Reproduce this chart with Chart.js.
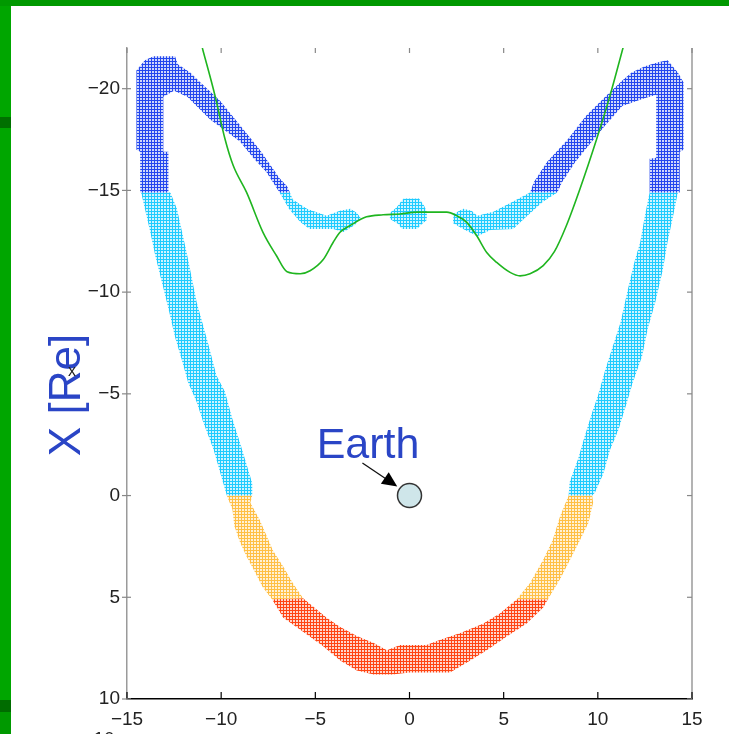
<!DOCTYPE html>
<html>
<head>
<meta charset="utf-8">
<script src="https://cdn.jsdelivr.net/npm/chart.js@4.4.0/dist/chart.umd.min.js"></script>
<style>
html, body { margin: 0; padding: 0; }
body { width: 729px; height: 734px; background: #009900; position: relative; overflow: hidden; }
#bar { position: absolute; left: 0; top: 6px; width: 11px; height: 694px; background: #00a600; }
#p1 { position: absolute; left: 0; top: 117px; width: 11px; height: 11px; background: #007000; }
#p2 { position: absolute; left: 0; top: 700px; width: 11px; height: 12px; background: #006c00; }
#paper { position: absolute; left: 11px; top: 6px; right: 0; bottom: 0; background: #fff; }
#c { position: absolute; left: 0; top: 0; }
</style>
</head>
<body>
<div id="bar"></div><div id="p1"></div><div id="p2"></div>
<div id="paper"></div>
<canvas id="c" width="729" height="734"></canvas>
<script>
// axis ticks
const xTicks = [-15, -10, -5, 0, 5, 10, 15];
const yTicks = [-20, -15, -10, -5, 0, 5, 10];

// band outlines [x, y] in Re (outer edge, then inner edge back)
const darkLeft = [[-14.3,-14.9],[-14.3,-16.9],[-14.5,-17.0],[-14.5,-20.9],[-14.05,-21.4],[-13.6,-21.6],[-12.45,-21.6],[-12.3,-21.2],[-11.65,-20.8],[-11.1,-20.3],[-10.05,-19.4],[-9.0,-18.2],[-7.95,-17.0],[-6.9,-15.6],[-6.5,-15.2],[-6.35,-14.9],
  [-6.9,-14.9],[-7.6,-15.9],[-8.3,-16.6],[-9.0,-17.4],[-10.6,-18.5],[-11.8,-19.6],[-12.5,-19.9],[-13.07,-19.6],[-13.07,-16.9],[-12.8,-16.9],[-12.8,-14.9]];
const cyanLeftArm = [[-14.25,-14.9],[-13.8,-13.1],[-13.5,-11.8],[-13.15,-10.5],[-12.8,-9.2],[-12.45,-7.8],[-12.1,-6.7],[-11.75,-5.55],[-11.3,-4.6],[-10.95,-3.6],[-10.4,-2.25],[-9.95,-0.8],[-9.7,0],
  [-8.35,0],[-8.35,-0.6],[-9.0,-2.6],[-9.4,-3.75],[-9.8,-5.1],[-10.25,-5.9],[-10.7,-7.5],[-11.3,-9.5],[-11.8,-11.8],[-12.35,-14.1],[-12.7,-14.9]];
const cyanLeftMid = [[-6.9,-14.9],[-6.35,-14.9],[-6.2,-14.55],[-5.45,-14.1],[-4.4,-13.75],[-3.7,-14.0],[-3.15,-14.1],[-2.8,-13.9],[-2.6,-13.65],[-2.9,-13.3],[-3.5,-12.95],[-4.05,-13.1],[-5.3,-13.1],[-5.8,-13.45],[-6.4,-14.1]];
const bumpMid = [[-1.04,-13.6],[-1.04,-13.9],[-0.7,-14.15],[-0.45,-14.45],[-0.3,-14.6],[0.5,-14.6],[0.75,-14.3],[0.92,-13.95],[0.92,-13.55],[0.6,-13.3],[0.4,-13.1],[-0.4,-13.1],[-0.6,-13.35]];
const cyanRightMid = [[2.3,-13.4],[2.35,-13.85],[2.85,-14.1],[3.3,-14.0],[3.6,-13.75],[4.45,-13.95],[5.5,-14.45],[6.4,-14.9],[7.85,-14.9],[7.1,-14.45],[6.2,-13.7],[5.5,-13.1],[4.3,-13.05],[3.6,-12.75],[2.85,-13.1]];
const darkRight = [[6.4,-14.9],[6.6,-15.4],[7.3,-16.4],[8.4,-17.5],[9.4,-18.7],[10.5,-19.7],[11.3,-20.4],[11.8,-20.8],[12.5,-21.1],[13.2,-21.3],[13.7,-21.4],[14.25,-20.8],[14.55,-20.3],[14.55,-17.0],[14.35,-16.9],[14.35,-14.9],
  [12.75,-14.9],[12.75,-16.55],[13.1,-16.6],[13.1,-19.7],[12.4,-19.5],[11.3,-19.15],[10.4,-18.2],[9.5,-17.2],[8.8,-16.4],[8.1,-15.4],[7.85,-14.9]];
const cyanRightArm = [[14.25,-14.9],[14.0,-13.75],[13.7,-12.45],[13.45,-11.1],[13.05,-9.5],[12.65,-8.2],[12.35,-6.85],[11.85,-5.55],[11.55,-4.6],[11.1,-3.25],[10.65,-2.25],[10.3,-1.1],[9.85,-0.15],[9.7,0],
  [8.45,0],[8.5,-0.65],[8.95,-1.8],[9.3,-2.9],[9.7,-4.1],[10.0,-4.9],[10.4,-6.2],[10.75,-7.2],[11.2,-8.5],[11.6,-10.15],[11.95,-11.5],[12.25,-12.45],[12.5,-13.75],[12.75,-14.9]];
const orangeLeft = [[-9.7,0],[-9.4,0.7],[-9.3,1.5],[-9.0,2.3],[-8.65,3.0],[-8.3,3.6],[-7.8,4.5],[-7.3,5.1],
  [-5.65,5.05],[-6.2,4.3],[-6.7,3.5],[-7.25,2.7],[-7.95,1.2],[-8.45,0.35],[-8.35,0]];
const orangeRight = [[9.7,0],[9.75,0.35],[9.5,1.35],[9.05,2.2],[8.5,3.2],[8.0,4.1],[7.35,5.1],
  [5.7,5.1],[6.4,4.3],[7.1,3.15],[7.6,2.2],[8.0,1.0],[8.45,0]];
const redBottom = [[-7.3,5.1],[-6.7,6.0],[-5.8,6.6],[-4.6,7.4],[-3.7,8.1],[-2.8,8.6],[-1.9,8.8],[-0.9,8.8],[0,8.7],[1.1,8.7],[2.15,8.7],[3.05,8.2],[4.1,7.6],[5.2,6.9],[6.2,6.3],[7.1,5.5],[7.35,5.1],
  [5.7,5.1],[4.8,5.8],[3.9,6.3],[2.7,6.75],[1.6,7.1],[0.9,7.35],[-0.5,7.35],[-1.2,7.6],[-1.9,7.25],[-2.8,6.9],[-3.7,6.45],[-4.4,6.0],[-5.65,5.05]];

// green curve
const greenX = [-11.0,-10.33,-9.8,-9.36,-8.65,-7.78,-7.07,-6.5,-5.8,-5.28,-4.58,-4.05,-3.69,-3.16,-2.28,-1.4,-0.5,0.39,1.98,2.5,3.04,3.57,4.1,4.63,5.34,5.87,6.4,7.1,7.7,8.3,9.05,9.93,10.65,11.35];
const greenY = [-22.0,-19.67,-17.54,-16.22,-14.9,-12.94,-11.8,-11.0,-10.9,-11.05,-11.6,-12.45,-12.94,-13.27,-13.7,-13.8,-13.84,-13.93,-13.93,-13.76,-13.43,-12.77,-11.95,-11.46,-10.97,-10.8,-10.9,-11.3,-12.0,-13.2,-15.07,-17.5,-19.67,-22.05];

const earth = [{x: 0, y: 0}];

const canvas = document.getElementById('c');
const ctx0 = canvas.getContext('2d');

function hatch(color) {
  const t = document.createElement('canvas');
  t.width = 3; t.height = 3;
  const g = t.getContext('2d');
  g.fillStyle = color;
  g.globalAlpha = 0.22;
  g.fillRect(0, 0, 3, 3);
  g.globalAlpha = 1;
  g.fillRect(1, 0, 1, 3);
  g.fillRect(0, 1, 3, 1);
  return ctx0.createPattern(t, 'repeat');
}

const DARK = hatch('#2347ee');
const CYAN = hatch('#1fcbff');
const ORANGE = hatch('#ffbf45');
const RED = hatch('#ff4514');

function band(pts, pat) {
  return {
    data: pts.map(p => ({x: p[0], y: p[1]})),
    showLine: true, fill: 'shape', backgroundColor: pat,
    borderColor: 'transparent', borderWidth: 0, pointRadius: 0, tension: 0, order: 2
  };
}

const minus = v => v < 0 ? '\u2212' + Math.abs(v) : String(v);
const FONT = "'Liberation Sans', Arial, sans-serif";

const decor = {
  id: 'decor',
  afterDraw(chart) {
    const {ctx, chartArea: a, scales: {x, y}} = chart;
    ctx.save();
    // right axis line
    ctx.strokeStyle = '#9a9a9a';
    ctx.lineWidth = 1.5;
    ctx.beginPath();
    ctx.moveTo(a.right, a.top); ctx.lineTo(a.right, a.bottom);
    ctx.stroke();
    // ticks
    ctx.lineWidth = 1.2;
    xTicks.forEach(v => {
      const px = x.getPixelForValue(v);
      ctx.strokeStyle = '#000';
      ctx.beginPath(); ctx.moveTo(px, a.bottom); ctx.lineTo(px, a.bottom - 7); ctx.stroke();
      ctx.strokeStyle = '#888';
      ctx.beginPath(); ctx.moveTo(px, a.top); ctx.lineTo(px, a.top + 5); ctx.stroke();
    });
    yTicks.forEach(v => {
      const py = y.getPixelForValue(v);
      ctx.strokeStyle = '#888';
      ctx.beginPath(); ctx.moveTo(a.left - 5, py); ctx.lineTo(a.left + 4, py); ctx.stroke();
      ctx.beginPath(); ctx.moveTo(a.right, py); ctx.lineTo(a.right - 5, py); ctx.stroke();
    });

    // Earth label and arrow
    ctx.fillStyle = '#2a45c6';
    ctx.font = '43px ' + FONT;
    ctx.textAlign = 'center';
    ctx.textBaseline = 'middle';
    ctx.fillText('Earth', x.getPixelForValue(-2.2), y.getPixelForValue(-2.45));
    const x1 = x.getPixelForValue(-2.5), y1 = y.getPixelForValue(-1.6);
    const x2 = x.getPixelForValue(-0.65), y2 = y.getPixelForValue(-0.45);
    const ang = Math.atan2(y2 - y1, x2 - x1);
    ctx.strokeStyle = '#111'; ctx.lineWidth = 1.3;
    ctx.beginPath(); ctx.moveTo(x1, y1); ctx.lineTo(x2 - 12 * Math.cos(ang), y2 - 12 * Math.sin(ang)); ctx.stroke();
    ctx.fillStyle = '#000';
    ctx.beginPath();
    ctx.moveTo(x2, y2);
    ctx.lineTo(x2 - 15 * Math.cos(ang) + 7 * Math.sin(ang), y2 - 15 * Math.sin(ang) - 7 * Math.cos(ang));
    ctx.lineTo(x2 - 15 * Math.cos(ang) - 7 * Math.sin(ang), y2 - 15 * Math.sin(ang) + 7 * Math.cos(ang));
    ctx.closePath(); ctx.fill();

    // y axis title
    ctx.save();
    ctx.translate(68, 395);
    ctx.rotate(-Math.PI / 2);
    ctx.fillStyle = '#2a45c6';
    ctx.font = '44px ' + FONT;
    ctx.fillText('X [Re]', 0, 0);
    ctx.restore();
    // stray cursor mark
    ctx.fillStyle = '#222';
    ctx.font = '16px ' + FONT;
    ctx.fillText('x', 72, 372);
    // cut-off label at the bottom edge
    ctx.font = '19px ' + FONT;
    ctx.fillStyle = '#222';
    ctx.fillText('10', 104, 740);
    ctx.restore();
  }
};

new Chart(canvas, {
  type: 'scatter',
  data: {
    datasets: [
      {data: greenX.map((v, i) => ({x: v, y: greenY[i]})), showLine: true, borderColor: '#1fb51f', borderWidth: 1.6,
       pointRadius: 0, cubicInterpolationMode: 'monotone', fill: false, order: 1},
      {data: earth, pointRadius: 12, backgroundColor: '#cfe6ea', borderColor: '#333', borderWidth: 1.5, order: 0},
      band(darkLeft, DARK), band(cyanLeftArm, CYAN), band(cyanLeftMid, CYAN), band(bumpMid, CYAN),
      band(cyanRightMid, CYAN), band(darkRight, DARK), band(cyanRightArm, CYAN),
      band(orangeLeft, ORANGE), band(orangeRight, ORANGE), band(redBottom, RED)
    ]
  },
  options: {
    responsive: false,
    animation: false,
    layout: {padding: {left: 0, right: 37, top: 48, bottom: 0}},
    plugins: {legend: {display: false}, tooltip: {enabled: false}},
    scales: {
      x: {
        type: 'linear', min: -15, max: 15,
        grid: {display: false, drawTicks: false},
        border: {display: true, color: '#000', width: 1.5},
        afterBuildTicks: s => { s.ticks = xTicks.map(v => ({value: v})); },
        afterFit: s => { s.height = 35; },
        ticks: {padding: 9, color: '#222', font: {family: FONT, size: 19}, callback: v => minus(v), maxRotation: 0}
      },
      y: {
        type: 'linear', min: -22, max: 10, reverse: true,
        grid: {display: false, drawTicks: false},
        border: {display: true, color: '#9a9a9a', width: 1.5},
        afterBuildTicks: s => { s.ticks = yTicks.map(v => ({value: v})); },
        afterFit: s => { s.width = 127; },
        ticks: {padding: 7, color: '#222', font: {family: FONT, size: 19}, callback: v => minus(v)}
      }
    }
  },
  plugins: [decor]
});
</script>
</body>
</html>
